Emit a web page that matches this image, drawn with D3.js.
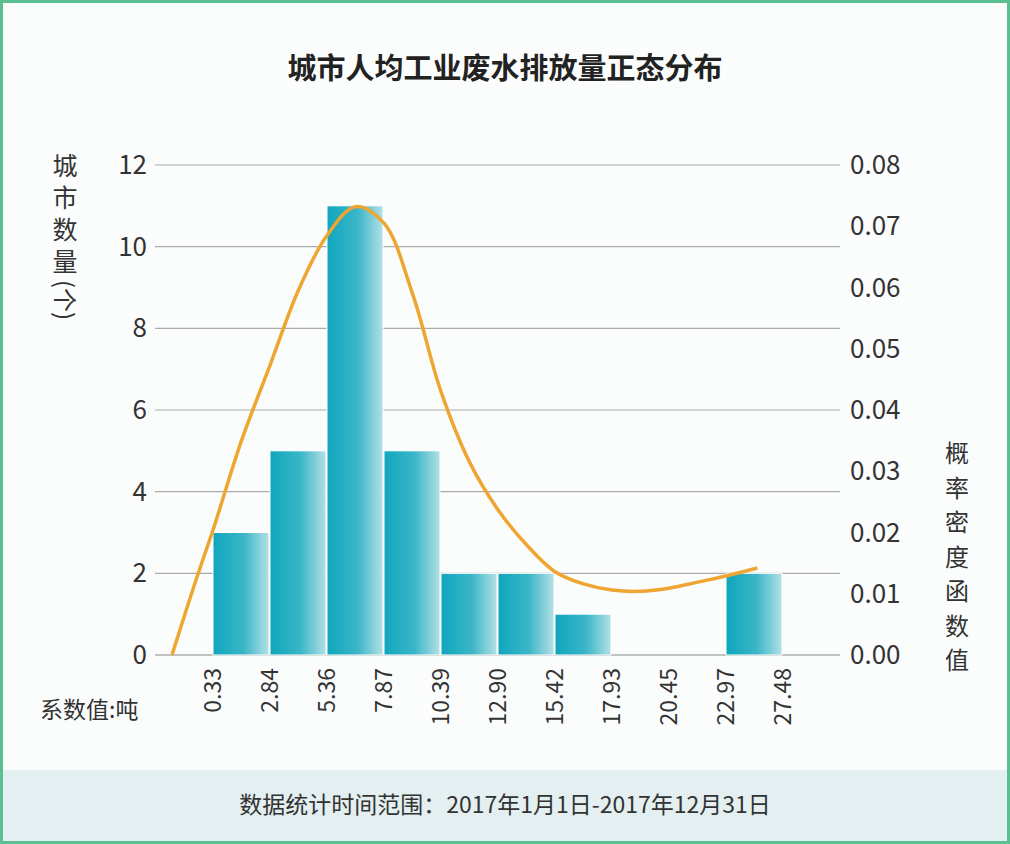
<!DOCTYPE html>
<html><head><meta charset="utf-8">
<script src="https://cdn.jsdelivr.net/npm/d3@7"></script>
<style>body{margin:0;background:#fff;font-family:"Noto Sans CJK SC","Noto Sans",sans-serif}</style>
</head><body>
<svg id="c" width="1010" height="844"></svg>
<script>
const tickLabels=["0.33","2.84","5.36","7.87","10.39","12.90","15.42","17.93","20.45","22.97","27.48"];
const counts=[3,5,11,5,2,2,1,0,0,2];
const curveIdx=[-0.72,-0.3,0,0.5,1,1.5,2,2.5,3,3.5,4,4.5,5,5.5,6,6.5,7,7.5,8,8.5,9,9.55];
const curveDen=[0,0.0122,0.0204,0.035,0.0473,0.0596,0.0685,0.0732,0.0705,0.059,0.043,0.0315,0.0237,0.018,0.0136,0.0116,0.0106,0.0104,0.0109,0.0119,0.0129,0.0142];
const leftTicks=[0,2,4,6,8,10,12];
const rightTicks=[0,0.01,0.02,0.03,0.04,0.05,0.06,0.07,0.08];

const svg=d3.select("#c");
const F='"Noto Sans CJK SC",sans-serif';
svg.append("rect").attr("x",1.5).attr("y",1.5).attr("width",1007).attr("height",841).attr("fill","#fbfdfc").attr("stroke","#5bbf90").attr("stroke-width",3);
svg.append("rect").attr("x",3).attr("y",770).attr("width",1004).attr("height",71).attr("fill","#e3eff0");
svg.append("text").attr("x",505).attr("y",813).attr("text-anchor","middle").attr("font-size",23).attr("fill","#333").attr("font-family",F).text("数据统计时间范围：2017年1月1日-2017年12月31日");
svg.append("text").attr("x",505).attr("y",79).attr("text-anchor","middle").attr("font-size",29).attr("font-weight","bold").attr("fill","#222").attr("font-family",F).text("城市人均工业废水排放量正态分布");

const x=d3.scaleLinear().domain([0,1]).range([213,270]);
const y=d3.scaleLinear().domain([0,12]).range([655,165]);
const y2=d3.scaleLinear().domain([0,0.08]).range([655,165]);

const g=svg.append("g");
g.selectAll("line.grid").data(leftTicks).join("line").attr("x1",155).attr("x2",840)
 .attr("y1",d=>y(d)).attr("y2",d=>y(d)).attr("stroke",d=>d===0?"#888":"#aaa").attr("stroke-width",1.2);
g.selectAll("text.l").data(leftTicks).join("text").attr("x",147).attr("y",d=>y(d)+9).attr("text-anchor","end")
 .attr("font-size",26).attr("fill","#333").attr("font-family",F).text(d=>d);
g.selectAll("text.r").data(rightTicks).join("text").attr("x",850).attr("y",d=>y2(d)+9)
 .attr("font-size",26).attr("fill","#333").attr("font-family",F).text(d=>d.toFixed(2));

const grad=svg.append("defs").append("linearGradient").attr("id","bg");
grad.append("stop").attr("offset","0%").attr("stop-color","#0fa6bd");
grad.append("stop").attr("offset","55%").attr("stop-color","#3bb6c8");
grad.append("stop").attr("offset","100%").attr("stop-color","#b3e0e6");
g.selectAll("rect.b").data(counts).join("rect").attr("x",(d,i)=>x(i)).attr("width",x(1)-x(0)-1)
 .attr("y",d=>y(d)).attr("height",d=>y(0)-y(d)).attr("fill","url(#bg)").attr("stroke","#fff").attr("stroke-width",1);

g.selectAll("text.t").data(tickLabels).join("text")
 .attr("transform",(d,i)=>`translate(${x(i)+8},668) rotate(-90)`).attr("text-anchor","end")
 .attr("font-size",23).attr("fill","#333").attr("font-family",F).text(d=>d);

const pts=curveIdx.map((v,i)=>[x(v),y2(curveDen[i])]);
g.append("path").attr("d",d3.line().curve(d3.curveCatmullRom)(pts)).attr("fill","none").attr("stroke","#eea531").attr("stroke-width",3.5);

"城市数量".split("").forEach((c,i)=>svg.append("text").attr("x",65).attr("y",175+i*32).attr("text-anchor","middle").attr("font-size",25).attr("fill","#333").attr("font-family",F).text(c));
svg.append("text").attr("transform","translate(56,280) rotate(90)").attr("font-size",24).attr("fill","#333").attr("font-family",F).text("(个)");
"概率密度函数值".split("").forEach((c,i)=>svg.append("text").attr("x",957).attr("y",462+i*34.5).attr("text-anchor","middle").attr("font-size",24).attr("fill","#333").attr("font-family",F).text(c));
svg.append("text").attr("x",40).attr("y",718).attr("font-size",23).attr("fill","#333").attr("font-family",F).text("系数值:吨");
</script></body></html>
